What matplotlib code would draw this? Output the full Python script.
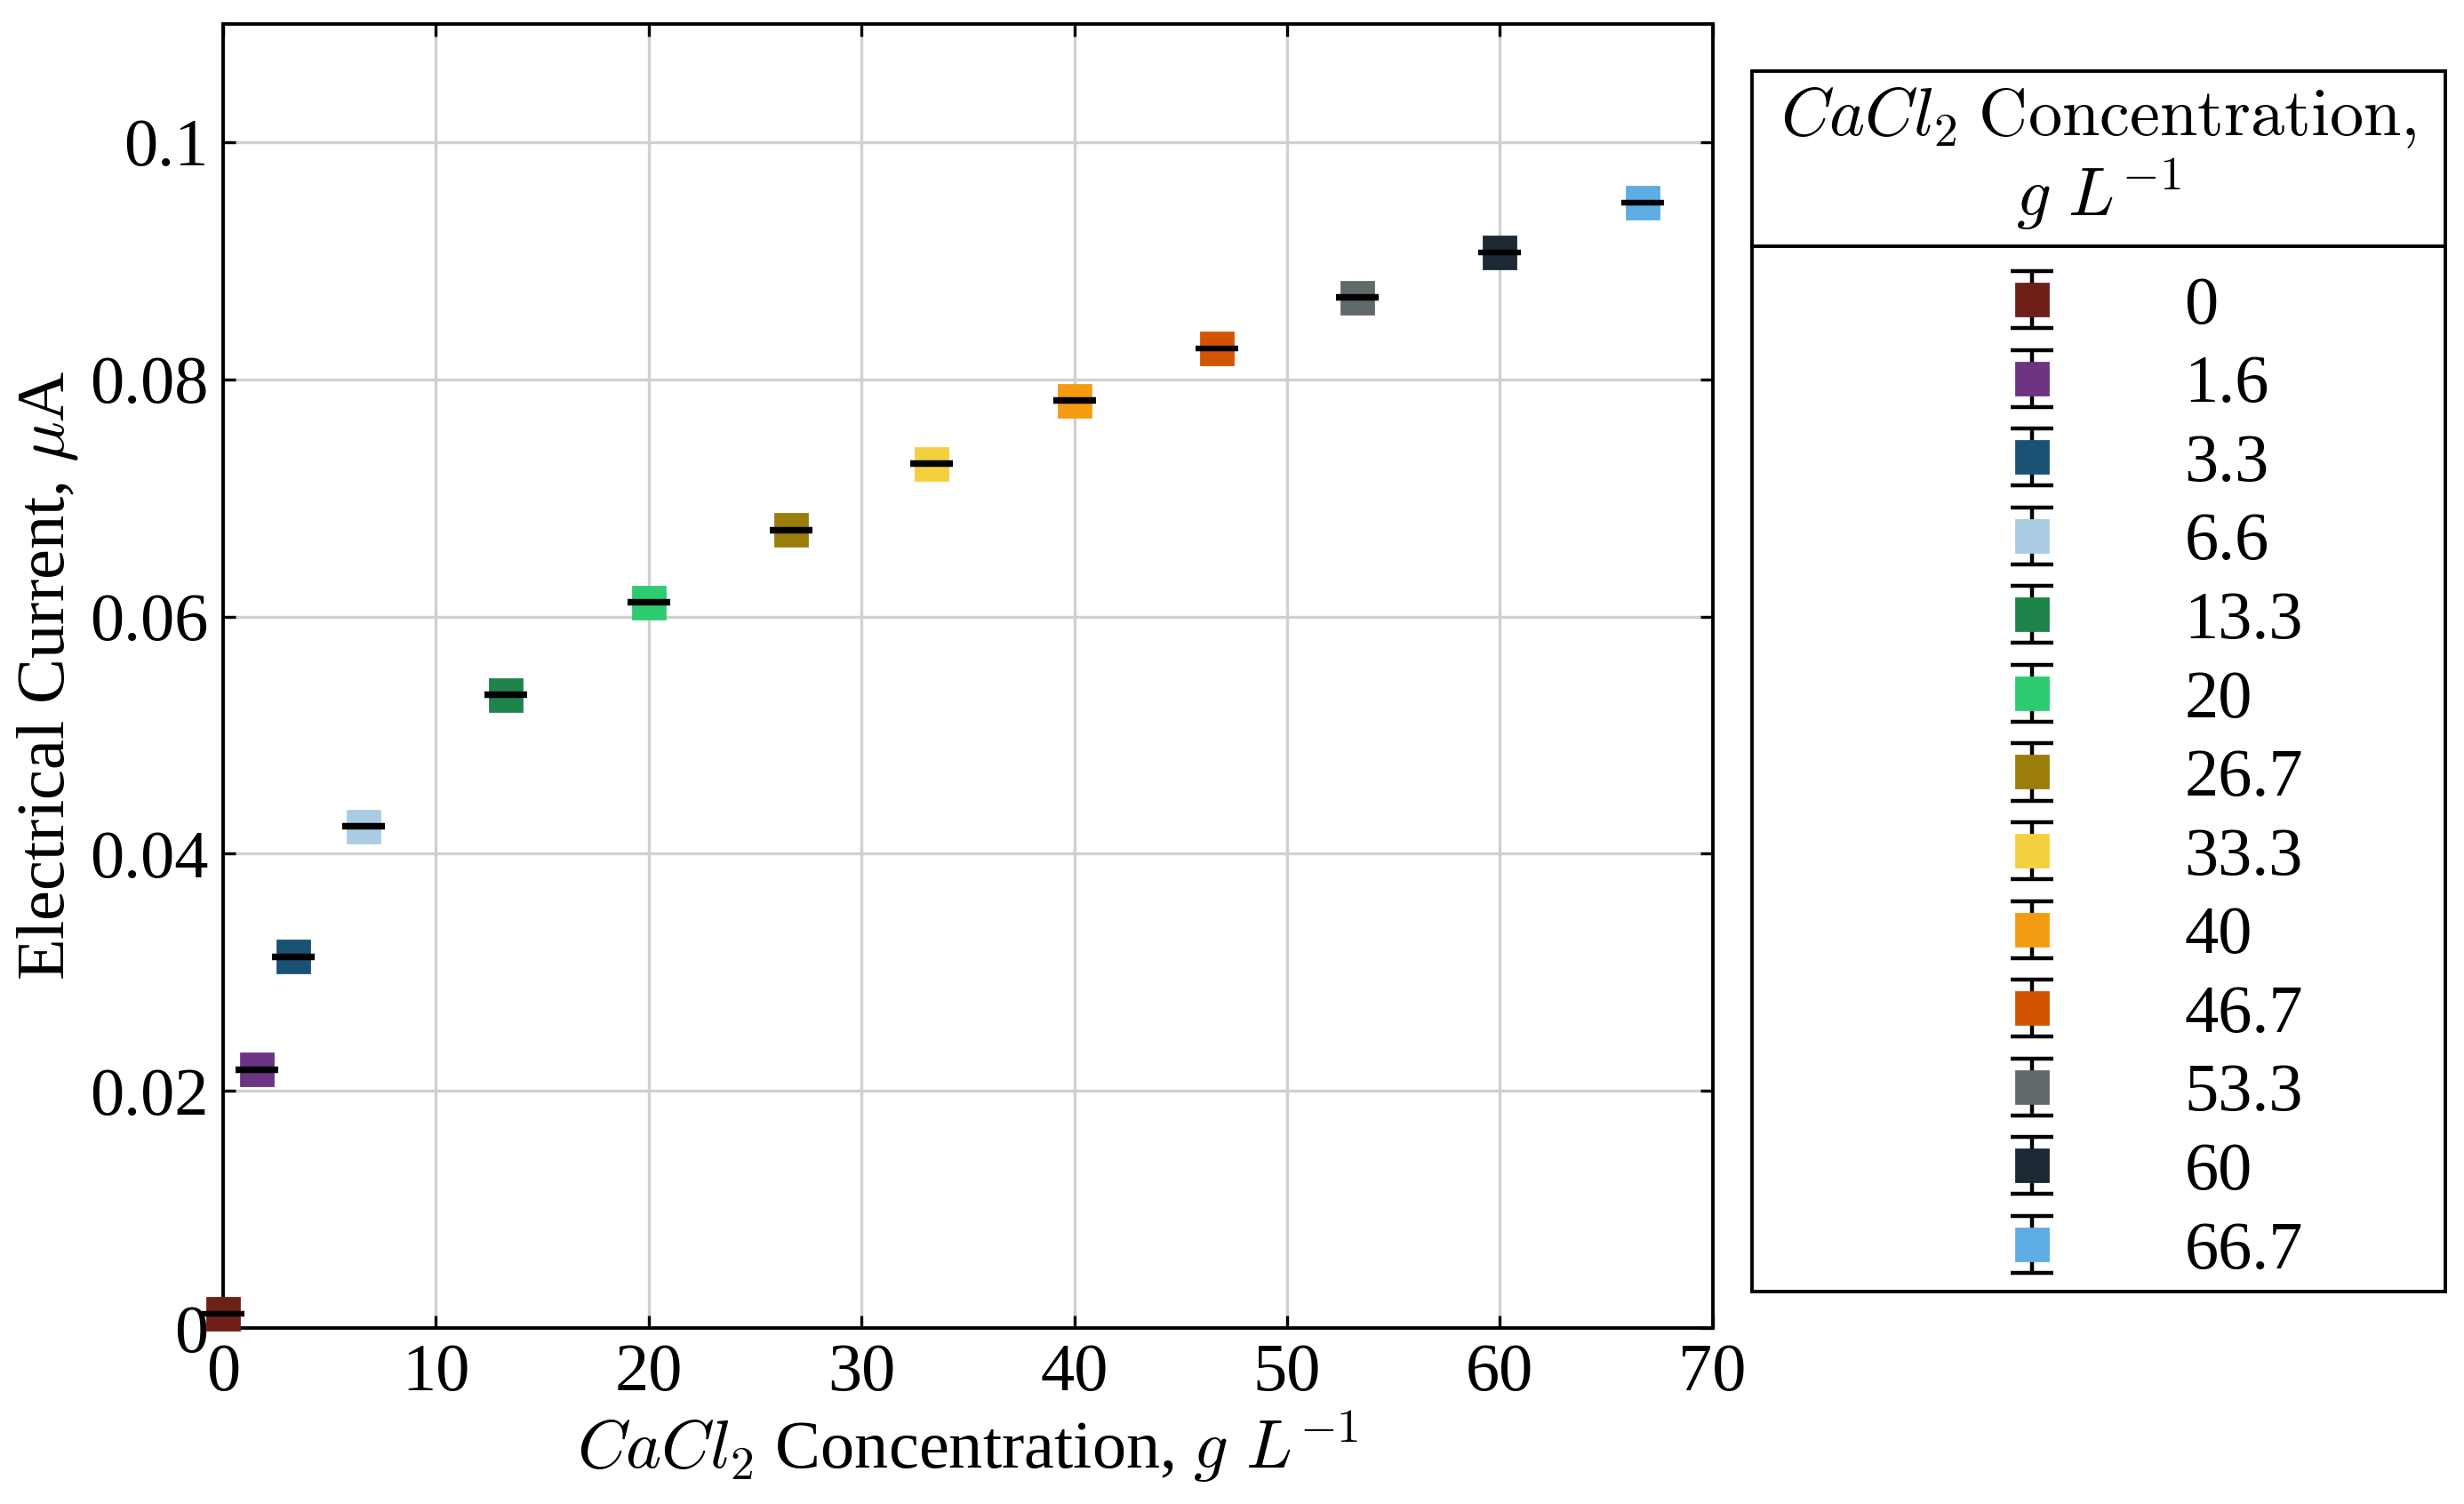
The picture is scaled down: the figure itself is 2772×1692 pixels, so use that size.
import matplotlib
matplotlib.use("Agg")
import matplotlib.pyplot as plt
from matplotlib.legend_handler import HandlerErrorbar
from matplotlib.ticker import FormatStrFormatter

plt.rcParams["font.family"] = "serif"
plt.rcParams["font.serif"] = ["Liberation Serif", "DejaVu Serif"]
plt.rcParams["mathtext.fontset"] = "cm"

# CaCl2 concentration, g/L
conc = [0, 1.6, 3.3, 6.6, 13.3, 20, 26.7, 33.3, 40, 46.7, 53.3, 60, 66.7]
labels = ["0", "1.6", "3.3", "6.6", "13.3", "20", "26.7", "33.3", "40", "46.7", "53.3", "60", "66.7"]
# electrical current, uA
current = [0.0012, 0.0218, 0.0313, 0.0423, 0.0534, 0.0612, 0.0673, 0.0729, 0.0782,
           0.0826, 0.0869, 0.0907, 0.0949]
err = [0.0001, 0.0001, 0.0001, 0.0001, 0.0001, 0.0001, 0.0001, 0.0001, 0.0001,
       0.0001, 0.0001, 0.0001, 0.0001]
colors = ["#6e2018", "#6c3483", "#1a5276", "#a9cce3", "#1e8449", "#2ecc71", "#9a7d0a",
          "#f4d03f", "#f39c12", "#d35400", "#616a6b", "#1c2833", "#5dade2"]

fs = 27.5

fig = plt.figure(figsize=(13.86, 8.46), dpi=200)
ax = fig.add_axes([0.0906, 0.117, 0.6044, 0.8673])

handles = []
for x, y, e, c, lab in zip(conc, current, err, colors, labels):
    h = ax.errorbar(x, y, yerr=e, fmt="s", color=c, ms=13, mec=c,
                    ecolor="black", elinewidth=1.6, capsize=8.6, capthick=1.6,
                    label=lab, zorder=3, clip_on=False)
    for cl in h[1]:
        cl.set_zorder(4)
        cl.set_clip_on(False)
    handles.append(h)

ax.set_xlim(0, 70)
ax.set_ylim(0, 0.11)
ax.set_xticks([0, 10, 20, 30, 40, 50, 60, 70])
ax.set_yticks([0, 0.02, 0.04, 0.06, 0.08, 0.1])
ax.yaxis.set_major_formatter(FormatStrFormatter("%g"))
ax.grid(True, color="#d0d0d0", linewidth=1.2)
ax.set_axisbelow(True)
ax.tick_params(direction="in", top=True, right=True, length=5, width=1.2,
               labelsize=fs, pad=6)
for s in ax.spines.values():
    s.set_linewidth(1.4)

ax.set_xlabel(r"$CaCl_2$ Concentration, $g\ L^{-1}$", fontsize=fs, labelpad=2)
ax.set_ylabel(r"Electrical Current, $\mu$A", fontsize=fs, labelpad=4)

# legend box with a separate title row
box = plt.Rectangle((0.711, 0.141), 0.2813, 0.812, transform=fig.transFigure,
                    fill=False, edgecolor="black", linewidth=1.4)
fig.add_artist(box)
fig.add_artist(plt.Line2D([0.711, 0.9923], [0.836, 0.836], transform=fig.transFigure,
                          color="black", linewidth=1.4))
fig.text(0.8517, 0.8945, "$CaCl_2$ $\\mathrm{Concentration,}$\n$g\\ L^{-1}$",
         ha="center", va="center", fontsize=fs, linespacing=1.1)

leg = fig.legend(handles=handles, loc="upper left", bbox_to_anchor=(0.797, 0.8166),
                 frameon=False, fontsize=fs, borderpad=0, borderaxespad=0,
                 handlelength=2, handletextpad=1.25, labelspacing=0.25,
                 handler_map={type(handles[0]): HandlerErrorbar(xerr_size=0.5, yerr_size=0.42)})

fig.savefig("out.png", dpi=200)
